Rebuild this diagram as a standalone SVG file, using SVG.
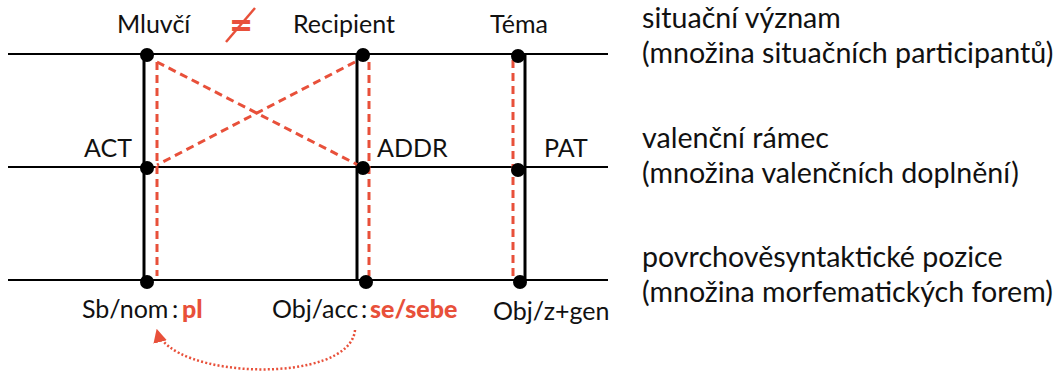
<svg xmlns="http://www.w3.org/2000/svg" width="1057" height="374" viewBox="0 0 1057 374">
  <style>
    .lbl { font-family: Lato, "Open Sans", sans-serif; font-size: 25px; fill: #111; }
    .side { font-family: Lato, "Open Sans", sans-serif; font-size: 28.6px; fill: #111; }
    .form { font-family: Lato, "Open Sans", sans-serif; font-size: 25px; font-weight: 900; fill: #E8503A; }
    .level { stroke: #000; stroke-width: 2; }
    .stem { stroke: #000; stroke-width: 3; }
    .link { stroke: #E8503A; stroke-width: 3; stroke-dasharray: 8 5; fill: none; }
    .dot { fill: #000; }
  </style>
  <defs>
    <marker id="tip" viewBox="0 0 10 10" refX="9" refY="5" markerWidth="5.5" markerHeight="5.5" orient="auto">
      <path d="M0,0 L10,5 L0,10 z" fill="#E8503A"/>
    </marker>
  </defs>

  <rect width="1057" height="374" fill="#fff"/>

  <!-- three levels -->
  <g id="levels">
    <line class="level" x1="8" y1="54" x2="608" y2="54"/>
    <line class="level" x1="8" y1="167" x2="608" y2="167"/>
    <line class="level" x1="8" y1="280" x2="608" y2="280"/>
  </g>

  <!-- correspondences between levels -->
  <g id="connectors">
    <line class="stem" x1="144" y1="54" x2="144" y2="281"/>
    <line class="stem" x1="357" y1="54" x2="357" y2="281"/>
    <line class="stem" x1="525" y1="55" x2="525" y2="281"/>
    <line class="link" x1="157" y1="62" x2="157" y2="276"/>
    <line class="link" x1="157" y1="62" x2="358" y2="165"/>
    <line class="link" x1="355" y1="62" x2="157" y2="165"/>
    <line class="link" x1="369" y1="62" x2="369" y2="276"/>
    <line class="link" x1="513" y1="60" x2="513" y2="276"/>
    <path d="M355,330 C350,385 170,380 157,330" fill="none" stroke="#E8503A" stroke-width="2.5" stroke-dasharray="2 2.2" marker-end="url(#tip)"/>
  </g>

  <g id="mluvci">
    <circle class="dot" cx="147" cy="55" r="7"/>
    <circle class="dot" cx="147" cy="168" r="7"/>
    <circle class="dot" cx="147" cy="282" r="7"/>
    <text class="lbl" x="117" y="33">Mluvčí</text>
    <text class="lbl" x="132" y="157" text-anchor="end">ACT</text>
    <text class="lbl" x="82" y="318">Sb/nom</text>
    <text class="lbl" x="172" y="318">:</text>
    <text class="form" x="182" y="318">pl</text>
  </g>

  <g id="recipient">
    <circle class="dot" cx="363" cy="55" r="7"/>
    <circle class="dot" cx="363" cy="168" r="7"/>
    <circle class="dot" cx="366" cy="282" r="7"/>
    <text class="lbl" x="293" y="33">Recipient</text>
    <text class="lbl" x="377" y="157">ADDR</text>
    <text class="lbl" x="272" y="318">Obj/acc</text>
    <text class="lbl" x="361" y="318">:</text>
    <text class="form" x="370" y="318">se/sebe</text>
  </g>

  <g id="tema">
    <circle class="dot" cx="518" cy="56" r="7"/>
    <circle class="dot" cx="518" cy="170" r="7"/>
    <circle class="dot" cx="520" cy="282" r="7"/>
    <text class="lbl" x="490" y="33">Téma</text>
    <text class="lbl" x="544" y="157">PAT</text>
    <text class="lbl" x="493" y="320">Obj/z+gen</text>
  </g>

  <!-- inequality mark between speaker and recipient -->
  <g id="not-equal">
    <text x="241" y="39" text-anchor="middle" font-family="Lato, sans-serif" font-size="40" font-weight="900" fill="#E8503A">=</text>
    <line x1="226" y1="42" x2="255" y2="8" stroke="#E8503A" stroke-width="2.5"/>
  </g>

  <g id="level-names">
    <text class="side" x="642" y="28">situační význam</text>
    <text class="side" x="642" y="63">(množina situačních participantů)</text>
    <text class="side" x="642" y="148">valenční rámec</text>
    <text class="side" x="642" y="183">(množina valenčních doplnění)</text>
    <text class="side" x="642" y="267">povrchověsyntaktické pozice</text>
    <text class="side" x="642" y="302">(množina morfematických forem)</text>
  </g>
</svg>
